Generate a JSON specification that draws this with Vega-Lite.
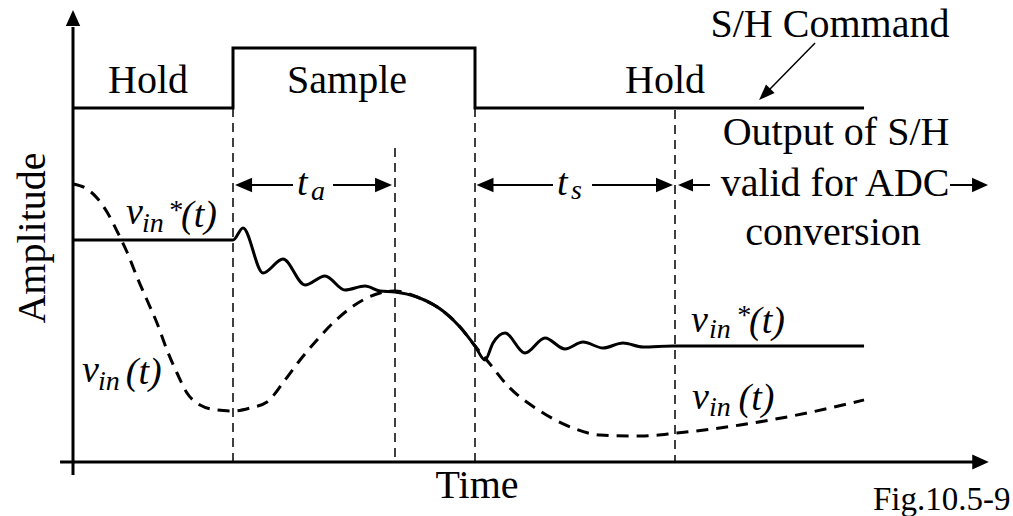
{
  "$schema": "https://vega.github.io/schema/vega-lite/v6.json",
  "width": 1013,
  "height": 516,
  "autosize": "none",
  "padding": 0,
  "background": "white",
  "config": {"view": {"stroke": null}, "font": "serif"},
  "datasets": {
    "axes": [
      {"t": 0, "a": -1.3, "t2": 0, "a2": 43.5},
      {"t": -0.81, "a": 0, "t2": 56.3, "a2": 0}
    ],
    "yhead": [{"t": 0, "a": 44.4}],
    "xhead": [{"t": 56.72, "a": 0}],
    "sh": [
      {"i": 1, "t": 0, "a": 35.4},
      {"i": 2, "t": 10, "a": 35.4},
      {"i": 3, "t": 10, "a": 41.4},
      {"i": 4, "t": 25.125, "a": 41.4},
      {"i": 5, "t": 25.125, "a": 35.4},
      {"i": 6, "t": 49.44, "a": 35.4}
    ],
    "vlines": [
      {"t": 10, "a": 35.4, "a2": 0},
      {"t": 20.125, "a": 31.4, "a2": 0},
      {"t": 25.125, "a": 35.4, "a2": 0},
      {"t": 37.625, "a": 35.2, "a2": 0}
    ],
    "vin": [
      {"t": 0, "a": 27.8}, {"t": 0.875, "a": 27.3}, {"t": 1.5, "a": 26.4}, {"t": 2.125, "a": 25.0},
      {"t": 2.81, "a": 22.9}, {"t": 3.375, "a": 21.0}, {"t": 4.0, "a": 18.5}, {"t": 4.625, "a": 16.2},
      {"t": 5.25, "a": 13.9}, {"t": 5.875, "a": 11.2}, {"t": 6.5, "a": 8.9}, {"t": 7.125, "a": 6.9},
      {"t": 7.94, "a": 5.7}, {"t": 9.0, "a": 5.2}, {"t": 10.0, "a": 5.1}, {"t": 11.06, "a": 5.4},
      {"t": 12.125, "a": 6.0}, {"t": 13.25, "a": 8.2}, {"t": 14.19, "a": 10.2}, {"t": 15.25, "a": 12.2},
      {"t": 16.375, "a": 14.1}, {"t": 18.125, "a": 16.2}, {"t": 19.19, "a": 16.9}, {"t": 20.125, "a": 17.1},
      {"t": 21.5, "a": 16.5}, {"t": 23.125, "a": 15.1}, {"t": 24.19, "a": 13.5}, {"t": 25.125, "a": 11.6},
      {"t": 25.75, "a": 10.4}, {"t": 26.06, "a": 9.8}, {"t": 27.125, "a": 7.7}, {"t": 29.19, "a": 5.1},
      {"t": 31.25, "a": 3.4}, {"t": 32.94, "a": 2.7}, {"t": 35.44, "a": 2.6}, {"t": 37.75, "a": 2.9},
      {"t": 41.69, "a": 3.7}, {"t": 45.875, "a": 4.9}, {"t": 49.44, "a": 6.2}
    ],
    "vinstar": [
      {"t": 0, "a": 22.2}, {"t": 10, "a": 22.2}, {"t": 10.625, "a": 23.4}, {"t": 11.875, "a": 18.9},
      {"t": 13.125, "a": 20.3}, {"t": 14.5, "a": 17.7}, {"t": 15.75, "a": 18.6}, {"t": 17.0, "a": 17.2},
      {"t": 18.25, "a": 17.6}, {"t": 19.19, "a": 17.1}, {"t": 20.125, "a": 17.0}, {"t": 21.5, "a": 16.5},
      {"t": 23.125, "a": 15.1}, {"t": 24.19, "a": 13.5}, {"t": 25.125, "a": 11.6}, {"t": 25.75, "a": 10.2},
      {"t": 26.25, "a": 11.9}, {"t": 27.0, "a": 12.9}, {"t": 28.25, "a": 10.9}, {"t": 29.5, "a": 12.4},
      {"t": 30.75, "a": 11.3}, {"t": 31.875, "a": 12.0}, {"t": 33.125, "a": 11.4}, {"t": 34.375, "a": 11.9},
      {"t": 35.625, "a": 11.5}, {"t": 37.5, "a": 11.6}, {"t": 49.44, "a": 11.6}
    ],
    "dims": [
      {"t": 11.06, "t2": 13.75, "a": 27.7},
      {"t": 16.25, "t2": 19.19, "a": 27.7},
      {"t": 26.06, "t2": 30.0, "a": 27.7},
      {"t": 32.44, "t2": 36.69, "a": 27.7},
      {"t": 38.56, "t2": 39.81, "a": 27.7},
      {"t": 54.81, "t2": 56.38, "a": 27.7}
    ],
    "lheads": [{"t": 10.66, "a": 27.7}, {"t": 25.75, "a": 27.7}],
    "rheads": [{"t": 19.41, "a": 27.7}, {"t": 36.97, "a": 27.7}],
    "lheadsmall": [{"t": 38.28, "a": 27.7}],
    "rheadsmall": [{"t": 56.69, "a": 27.7}],
    "shline": [{"t": 46.38, "a": 41.9, "t2": 43.44, "a2": 37.1}],
    "shhead": [{"t": 43.23, "a": 36.76}],
    "bigtext": [
      {"t": 4.69, "a": 36.9, "label": "Hold"},
      {"t": 17.13, "a": 36.9, "label": "Sample"},
      {"t": 37.0, "a": 36.9, "label": "Hold"},
      {"t": 47.31, "a": 42.5, "label": "S/H Command"},
      {"t": 47.69, "a": 31.7, "label": "Output of S/H"},
      {"t": 47.63, "a": 26.6, "label": "valid for ADC"},
      {"t": 47.5, "a": 21.7, "label": "conversion"},
      {"t": 25.25, "a": -3.6, "label": "Time"}
    ],
    "ylabel": [{"t": -1.75, "a": 22.4, "label": "Amplitude"}],
    "figlabel": [{"t": 50, "a": -4.8, "label": "Fig.10.5-9"}],
    "italtext": [
      {"t": 3.31, "a": 23.8, "label": "v"}, {"t": 6.75, "a": 23.5, "label": "(t)"},
      {"t": 0.56, "a": 8.0, "label": "v"}, {"t": 3.3, "a": 7.8, "label": "(t)"},
      {"t": 38.63, "a": 13.0, "label": "v"}, {"t": 42.25, "a": 12.9, "label": "(t)"},
      {"t": 38.69, "a": 5.3, "label": "v"}, {"t": 41.6, "a": 5.2, "label": "(t)"},
      {"t": 14.0, "a": 26.7, "label": "t"}, {"t": 30.25, "a": 26.7, "label": "t"}
    ],
    "subtext": [
      {"t": 4.31, "a": 23.0, "label": "in"}, {"t": 1.56, "a": 7.2, "label": "in"},
      {"t": 39.75, "a": 12.4, "label": "in"}, {"t": 39.75, "a": 4.6, "label": "in"},
      {"t": 14.88, "a": 26.2, "label": "a"}, {"t": 31.13, "a": 26.3, "label": "s"},
      {"t": 5.94, "a": 24.3, "label": "*"}, {"t": 41.44, "a": 13.8, "label": "*"}
    ]
  },
  "encoding": {
    "x": {"field": "t", "type": "quantitative", "scale": {"domain": [-4.5625, 58.75], "nice": false, "zero": false}, "axis": null},
    "y": {"field": "a", "type": "quantitative", "scale": {"domain": [-5.4, 46.2], "nice": false, "zero": false}, "axis": null}
  },
  "layer": [
    {"data": {"name": "axes"}, "mark": {"type": "rule", "strokeWidth": 3, "color": "black"},
     "encoding": {"x2": {"field": "t2"}, "y2": {"field": "a2"}}},
    {"data": {"name": "yhead"}, "mark": {"type": "point", "shape": "M0,-1L0.9,1L-0.9,1Z", "size": 256, "filled": true, "color": "black", "opacity": 1}},
    {"data": {"name": "xhead"}, "mark": {"type": "point", "shape": "M1,0L-1,-0.9L-1,0.9Z", "size": 272, "filled": true, "color": "black", "opacity": 1}},
    {"data": {"name": "sh"}, "mark": {"type": "line", "strokeWidth": 3, "color": "black", "strokeJoin": "miter"},
     "encoding": {"order": {"field": "i", "type": "quantitative"}}},
    {"data": {"name": "vlines"}, "mark": {"type": "rule", "strokeWidth": 1.5, "color": "black", "strokeDash": [9, 6]},
     "encoding": {"y2": {"field": "a2"}}},
    {"data": {"name": "vin"}, "mark": {"type": "line", "strokeWidth": 3, "color": "black", "strokeDash": [12, 8], "interpolate": "monotone"}},
    {"data": {"name": "vinstar"}, "mark": {"type": "line", "strokeWidth": 3, "color": "black", "interpolate": "monotone"}},
    {"data": {"name": "dims"}, "mark": {"type": "rule", "strokeWidth": 2, "color": "black"},
     "encoding": {"x2": {"field": "t2"}}},
    {"data": {"name": "lheads"}, "mark": {"type": "point", "shape": "M-1,0L1,-0.85L1,0.85Z", "size": 289, "filled": true, "color": "black", "opacity": 1}},
    {"data": {"name": "rheads"}, "mark": {"type": "point", "shape": "M1,0L-1,-0.85L-1,0.85Z", "size": 289, "filled": true, "color": "black", "opacity": 1}},
    {"data": {"name": "lheadsmall"}, "mark": {"type": "point", "shape": "M-1,0L1,-0.85L1,0.85Z", "size": 225, "filled": true, "color": "black", "opacity": 1}},
    {"data": {"name": "rheadsmall"}, "mark": {"type": "point", "shape": "M1,0L-1,-0.9L-1,0.9Z", "size": 256, "filled": true, "color": "black", "opacity": 1}},
    {"data": {"name": "shline"}, "mark": {"type": "rule", "strokeWidth": 1.5, "color": "black"},
     "encoding": {"x2": {"field": "t2"}, "y2": {"field": "a2"}}},
    {"data": {"name": "shhead"}, "mark": {"type": "point", "shape": "M1,0L-1,-0.75L-1,0.75Z", "size": 256, "angle": 134.5, "filled": true, "color": "black", "opacity": 1}},
    {"data": {"name": "bigtext"}, "mark": {"type": "text", "font": "serif", "fontSize": 40, "baseline": "alphabetic", "color": "black"},
     "encoding": {"text": {"field": "label"}}},
    {"data": {"name": "ylabel"}, "mark": {"type": "text", "font": "serif", "fontSize": 40, "baseline": "alphabetic", "angle": 270, "color": "black"},
     "encoding": {"text": {"field": "label"}}},
    {"data": {"name": "figlabel"}, "mark": {"type": "text", "font": "serif", "fontSize": 33, "align": "left", "baseline": "alphabetic", "color": "black"},
     "encoding": {"text": {"field": "label"}}},
    {"data": {"name": "italtext"}, "mark": {"type": "text", "font": "serif", "fontStyle": "italic", "fontSize": 38, "align": "left", "baseline": "alphabetic", "color": "black"},
     "encoding": {"text": {"field": "label"}}},
    {"data": {"name": "subtext"}, "mark": {"type": "text", "font": "serif", "fontStyle": "italic", "fontSize": 28, "align": "left", "baseline": "alphabetic", "color": "black"},
     "encoding": {"text": {"field": "label"}}}
  ]
}
